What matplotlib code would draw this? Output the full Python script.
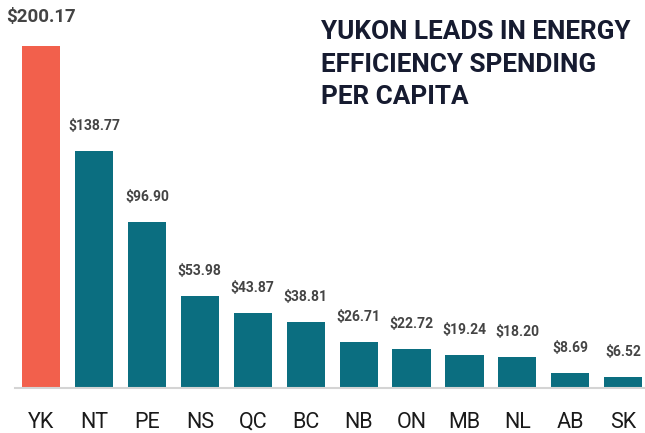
import matplotlib.pyplot as plt

plt.rcParams['font.family'] = ['Roboto', 'DejaVu Sans']

provinces = ["YK", "NT", "PE", "NS", "QC", "BC", "NB", "ON", "MB", "NL", "AB", "SK"]
spending = [200.17, 138.77, 96.90, 53.98, 43.87, 38.81, 26.71, 22.72, 19.24, 18.20, 8.69, 6.52]
title = "YUKON LEADS IN ENERGY\nEFFICIENCY SPENDING\nPER CAPITA"

coral = "#F2604C"
teal = "#0B6E80"
colors = [coral] + [teal] * (len(provinces) - 1)

fig = plt.figure(figsize=(6.45, 4.33), dpi=100)
ax = fig.add_axes([14.5 / 645, 45 / 433, 1 - 14.5 / 645, 388 / 433])

x = range(len(provinces))
bars = ax.bar(x, spending, width=0.72, color=colors, zorder=2)
ax.set_xlim(-0.5, 11.41)
ax.set_ylim(0, 226.8)

for i, (r, v) in enumerate(zip(bars, spending)):
    big = i == 0
    ax.annotate("${:.2f}".format(v),
                xy=(r.get_x() + r.get_width() / 2, v),
                xytext=(0, 14 if big else 13),
                textcoords="offset points",
                ha='center', va='bottom',
                fontsize=13.5 if big else 10, fontweight='bold',
                color="#444444")

ax.set_xticks(list(x))
ax.set_xticklabels(provinces, fontsize=15.5, color="#1a1a1a")
ax.tick_params(axis='x', length=0, pad=17)
ax.set_yticks([])
for s in ["top", "right", "left"]:
    ax.spines[s].set_visible(False)
ax.spines["bottom"].set_color("#d4d4d4")
ax.spines["bottom"].set_linewidth(1.5)

fig.text(321 / 645, 1 - 20 / 433, title, ha='left', va='top',
         fontsize=18.8, fontweight='bold', color="#161b30", linespacing=1.45)

fig.savefig("out.png", dpi=100)
